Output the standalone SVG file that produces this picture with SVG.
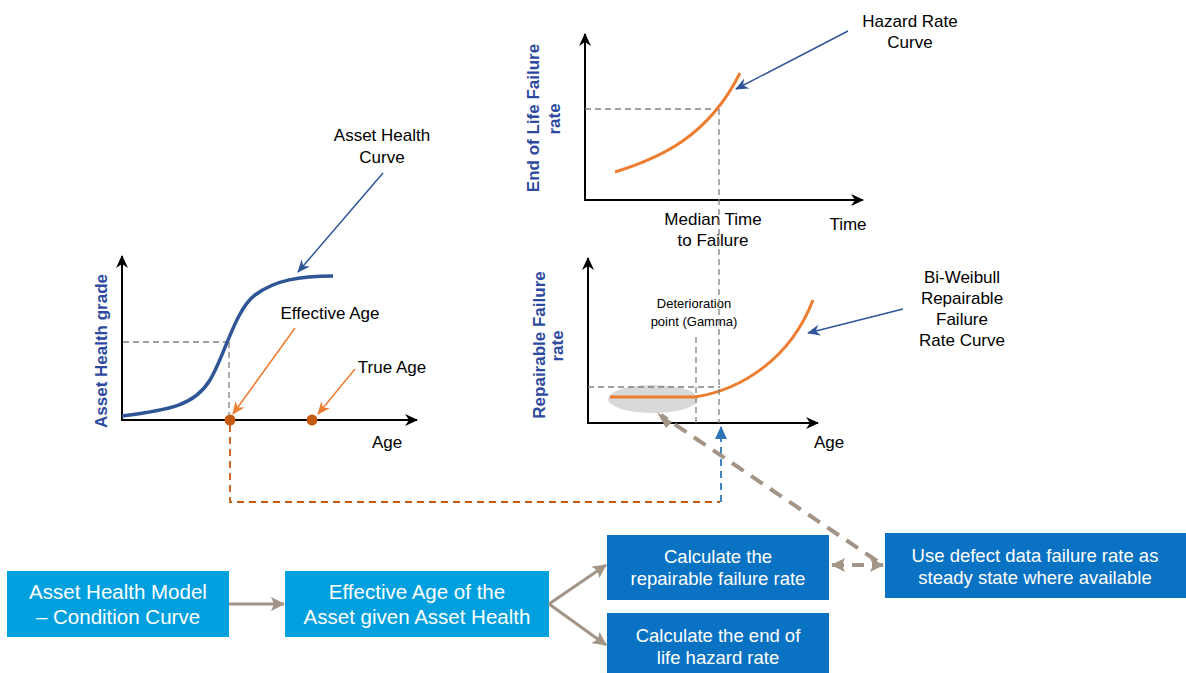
<svg xmlns="http://www.w3.org/2000/svg" width="1186" height="673" viewBox="0 0 1186 673">
<style>
text{font-family:"Liberation Sans",Arial,sans-serif;}
.lbl{font-size:17px;fill:#000;text-anchor:middle;}
.small{font-size:13px;fill:#000;text-anchor:middle;}
.ylab{font-size:17px;font-weight:bold;fill:#2E4A9F;text-anchor:middle;}
.axis{stroke:#000;stroke-width:2;fill:none;marker-end:url(#axArrow);}
.guide{stroke:#808080;stroke-width:1.3;stroke-dasharray:6 4;fill:none;}
.orange{stroke:#ED7D31;stroke-width:3;fill:none;}
.bluePtr{stroke:#2F5597;stroke-width:1.5;fill:none;marker-end:url(#blueArrow);}
.orPtr{stroke:#ED7D31;stroke-width:1.5;fill:none;marker-end:url(#orArrow);}
.flow{stroke:#A39488;stroke-width:3;fill:none;marker-end:url(#flowArrow);}
.flowD{stroke:#A39488;stroke-width:4;fill:none;stroke-dasharray:14 9;}
.boxL{fill:#009FDE;}
.boxD{fill:#0A72C2;}
.btxt{fill:#fff;text-anchor:middle;}
</style>
<defs>
<marker id="axArrow" markerUnits="userSpaceOnUse" markerWidth="14" markerHeight="12" refX="12" refY="6" orient="auto">
<path d="M0,0 L13,6 L0,12 L4,6 z" fill="#000"/>
</marker>
<marker id="blueArrow" markerUnits="userSpaceOnUse" markerWidth="14" markerHeight="12" refX="12" refY="6" orient="auto">
<path d="M0,0.5 L13,6 L0,11.5 L4,6 z" fill="#2F5597"/>
</marker>
<marker id="orArrow" markerUnits="userSpaceOnUse" markerWidth="14" markerHeight="12" refX="12" refY="6" orient="auto">
<path d="M0,0.5 L13,6 L0,11.5 L4,6 z" fill="#ED7D31"/>
</marker>
<marker id="flowArrow" markerUnits="userSpaceOnUse" markerWidth="16" markerHeight="14" refX="13" refY="7" orient="auto">
<path d="M0,0 L14,7 L0,14 L3,7 z" fill="#A39488"/>
</marker>
<marker id="flowArrowS" markerUnits="userSpaceOnUse" markerWidth="16" markerHeight="14" refX="13" refY="7" orient="auto-start-reverse">
<path d="M0,0 L14,7 L0,14 L3,7 z" fill="#A39488"/>
</marker>
<marker id="blueDashArrow" markerUnits="userSpaceOnUse" markerWidth="14" markerHeight="12" refX="12" refY="6" orient="auto">
<path d="M0,0 L13,6 L0,12 z" fill="#2E75B6"/>
</marker>
</defs>

<!-- Chart 1: Asset Health -->
<g id="chart-asset-health">
<line x1="122" y1="420" x2="122" y2="256" class="axis"/>
<line x1="121" y1="420" x2="417" y2="420" class="axis"/>
<text class="ylab" transform="translate(107,351) rotate(-90)">Asset Health grade</text>
<path d="M229,342 L122,342 M229,342 L229,420" class="guide"/>
<path d="M122,416 C170,410 195,405 210,380 C225,355 235,310 255,295 C275,280 300,276 333,276" stroke="#2F5597" stroke-width="3.5" fill="none"/>
<circle cx="230" cy="420" r="5.5" fill="#C55A11"/>
<circle cx="312" cy="420" r="5.5" fill="#C55A11"/>
<text class="lbl" x="382" y="141">Asset Health</text>
<text class="lbl" x="382" y="163">Curve</text>
<text class="lbl" x="330" y="319">Effective Age</text>
<text class="lbl" x="392" y="373">True Age</text>
<text class="lbl" x="387" y="448">Age</text>
</g>

<!-- Chart 2: Hazard rate -->
<g id="chart-hazard">
<line x1="585" y1="201" x2="585" y2="34" class="axis"/>
<line x1="584" y1="200" x2="863" y2="200" class="axis"/>
<text class="ylab" transform="translate(539,118) rotate(-90)">End of Life Failure</text>
<text class="ylab" transform="translate(560,119) rotate(-90)">rate</text>
<path d="M585,109 L719,109" class="guide"/>
<path d="M615,172 C660,158 708,137 740,73" class="orange"/>
<text class="lbl" x="713" y="225">Median Time</text>
<text class="lbl" x="713" y="246">to Failure</text>
<text class="lbl" x="848" y="230">Time</text>
<text class="lbl" x="910" y="27">Hazard Rate</text>
<text class="lbl" x="910" y="48">Curve</text>
</g>

<!-- Chart 3: Repairable failure rate -->
<g id="chart-repairable">
<ellipse cx="653" cy="399" rx="45" ry="14" fill="#D9D9D9"/>
<line x1="588" y1="424" x2="588" y2="258" class="axis"/>
<line x1="587" y1="423" x2="818" y2="423" class="axis"/>
<text class="ylab" transform="translate(545,345) rotate(-90)">Repairable Failure</text>
<text class="ylab" transform="translate(563,346) rotate(-90)">rate</text>
<path d="M588,387 L720,387" class="guide"/>
<path d="M696,337 L696,423" class="guide"/>
<path d="M610,397 L695,397 C740,390 790,360 813,300" class="orange"/>
<text class="small" x="694" y="308">Deterioration</text>
<text class="small" x="694" y="326">point  (Gamma)</text>
<text class="lbl" x="962" y="283">Bi-Weibull</text>
<text class="lbl" x="962" y="304">Repairable</text>
<text class="lbl" x="962" y="325">Failure</text>
<text class="lbl" x="962" y="346">Rate Curve</text>
<text class="lbl" x="829" y="448">Age</text>
</g>

<!-- Flow boxes -->
<g id="box-asset-health-model">
<rect x="7" y="571" width="222" height="66" class="boxL"/>
<text class="btxt" x="118" y="599" font-size="20.5">Asset Health Model</text>
<text class="btxt" x="118" y="624" font-size="20.5">– Condition Curve</text>
</g>
<g id="box-effective-age">
<rect x="285" y="571" width="264" height="66" class="boxL"/>
<text class="btxt" x="417" y="599" font-size="20.5">Effective Age of the</text>
<text class="btxt" x="417" y="624" font-size="20.5">Asset given Asset Health</text>
</g>
<g id="box-repairable">
<rect x="607" y="535" width="222" height="65" class="boxD"/>
<text class="btxt" x="718" y="563" font-size="18.5">Calculate the</text>
<text class="btxt" x="718" y="585" font-size="18.5">repairable failure rate</text>
</g>
<g id="box-hazard">
<rect x="607" y="613" width="222" height="60" class="boxD"/>
<text class="btxt" x="718" y="642" font-size="18.5">Calculate the end of</text>
<text class="btxt" x="718" y="664" font-size="18.5">life hazard rate</text>
</g>
<g id="box-defect">
<rect x="885" y="533" width="301" height="65" class="boxD"/>
<text class="btxt" x="1035" y="562" font-size="18.5">Use defect data failure rate as</text>
<text class="btxt" x="1035" y="584" font-size="18.5">steady state where available</text>
</g>

<!-- Connectors -->
<g id="connectors">
<line x1="383" y1="173" x2="298" y2="272" class="bluePtr"/>
<line x1="848" y1="31" x2="736" y2="89" class="bluePtr"/>
<line x1="903" y1="309" x2="808" y2="333" class="bluePtr"/>
<line x1="295" y1="328" x2="233" y2="414" class="orPtr"/>
<line x1="355" y1="369" x2="318" y2="414" class="orPtr"/>
<path d="M719,109 L719,423" class="guide"/>
<path d="M230,425 L230,502 L720,502" stroke="#C55A11" stroke-width="1.8" stroke-dasharray="7 5" fill="none"/>
<path d="M721,502 L721,427" stroke="#2E75B6" stroke-width="1.8" stroke-dasharray="7 5" fill="none" marker-end="url(#blueDashArrow)"/>
<line x1="229" y1="604" x2="284" y2="604" class="flow"/>
<line x1="549" y1="604" x2="606" y2="565" class="flow"/>
<line x1="549" y1="604" x2="606" y2="645" class="flow"/>
<path d="M877,561 L661,415" class="flowD"/>
<path d="M672,422 L657,412 L666,428 z" fill="#A39488"/>
<path d="M832,565 L883,565" stroke="#A39488" stroke-width="4" stroke-dasharray="12 8" fill="none" marker-start="url(#flowArrowS)" marker-end="url(#flowArrow)"/>
</g>
</svg>
